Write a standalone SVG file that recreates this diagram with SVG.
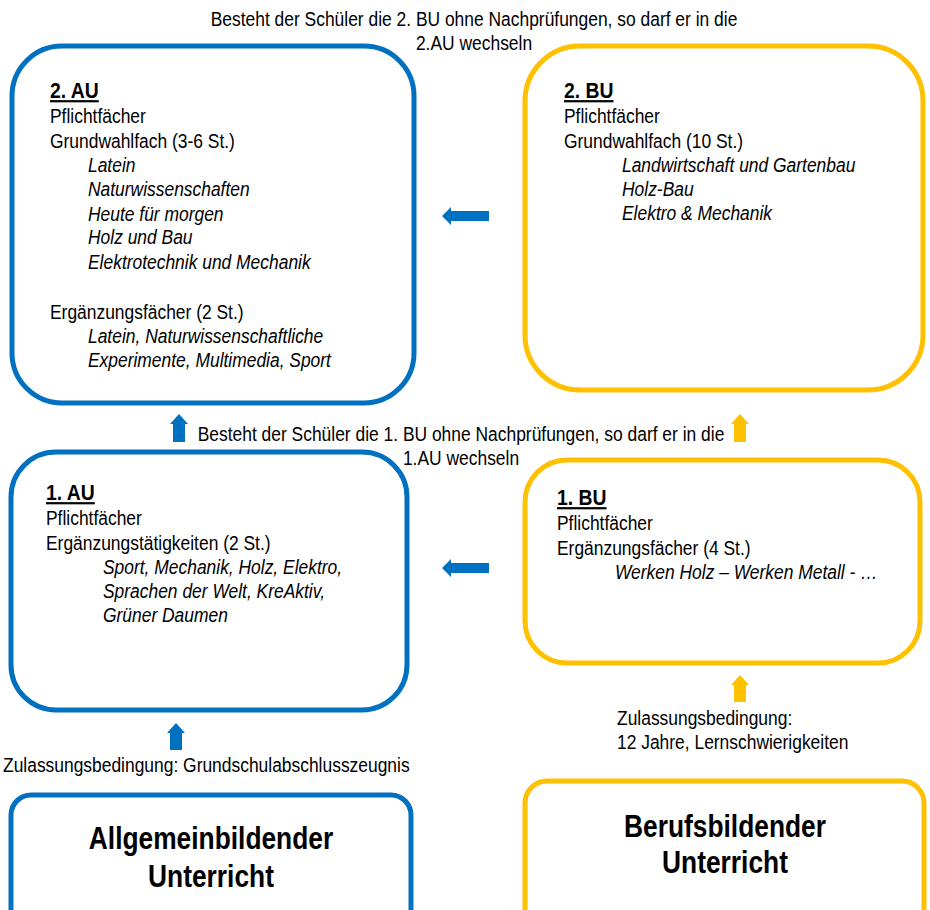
<svg xmlns="http://www.w3.org/2000/svg" width="930" height="910" viewBox="0 0 930 910">
<style>
text{font-family:"Liberation Sans",Arial,sans-serif;font-size:21px;fill:#000}
.u{font-weight:bold;font-size:22px;text-decoration:underline}
.i{font-style:italic}
.big{font-weight:bold;font-size:31px}
.blue{fill:none;stroke:#0070C0;stroke-width:5}
.yel{fill:none;stroke:#FFC000;stroke-width:5}
.ab{fill:#0070C0}
.ay{fill:#FFC000}
</style>
<rect width="930" height="910" fill="#fff"/>
<g id="au2">
<rect class="blue" x="12" y="46" width="402" height="357" rx="50"/>
<text class="u" transform="matrix(.88 0 0 1 50 98)">2. AU</text>
<text transform="matrix(.83 0 0 1 50 123)">Pflichtfächer</text>
<text transform="matrix(.83 0 0 1 50 148)">Grundwahlfach (3-6 St.)</text>
<text class="i" transform="matrix(.83 0 0 1 88 172)">Latein</text>
<text class="i" transform="matrix(.83 0 0 1 88 196)">Naturwissenschaften</text>
<text class="i" transform="matrix(.83 0 0 1 88 221)">Heute für morgen</text>
<text class="i" transform="matrix(.83 0 0 1 88 244)">Holz und Bau</text>
<text class="i" transform="matrix(.83 0 0 1 88 269)">Elektrotechnik und Mechanik</text>
<text transform="matrix(.83 0 0 1 50 319)">Ergänzungsfächer (2 St.)</text>
<text class="i" transform="matrix(.83 0 0 1 88 343)">Latein, Naturwissenschaftliche</text>
<text class="i" transform="matrix(.83 0 0 1 88 367)">Experimente, Multimedia, Sport</text>
</g>
<g id="bu2">
<rect class="yel" x="525" y="46" width="398" height="344" rx="55"/>
<text class="u" transform="matrix(.88 0 0 1 564 98)">2. BU</text>
<text transform="matrix(.83 0 0 1 564 123)">Pflichtfächer</text>
<text transform="matrix(.83 0 0 1 564 148)">Grundwahlfach (10 St.)</text>
<text class="i" transform="matrix(.83 0 0 1 622 172)">Landwirtschaft und Gartenbau</text>
<text class="i" transform="matrix(.83 0 0 1 622 196)">Holz-Bau</text>
<text class="i" transform="matrix(.83 0 0 1 622 220)">Elektro &amp; Mechanik</text>
</g>
<g id="au1">
<rect class="blue" x="11" y="452" width="396" height="258" rx="45"/>
<text class="u" transform="matrix(.88 0 0 1 46 500)">1. AU</text>
<text transform="matrix(.83 0 0 1 46 525)">Pflichtfächer</text>
<text transform="matrix(.83 0 0 1 46 550)">Ergänzungstätigkeiten (2 St.)</text>
<text class="i" transform="matrix(.83 0 0 1 103 574)">Sport, Mechanik, Holz, Elektro,</text>
<text class="i" transform="matrix(.83 0 0 1 103 598)">Sprachen der Welt, KreAktiv,</text>
<text class="i" transform="matrix(.83 0 0 1 103 622)">Grüner Daumen</text>
</g>
<g id="bu1">
<rect class="yel" x="525" y="460" width="395" height="203" rx="42"/>
<text class="u" transform="matrix(.88 0 0 1 557 505)">1. BU</text>
<text transform="matrix(.83 0 0 1 557 530)">Pflichtfächer</text>
<text transform="matrix(.83 0 0 1 557 555)">Ergänzungsfächer (4 St.)</text>
<text class="i" transform="matrix(.83 0 0 1 615 579)">Werken Holz – Werken Metall - …</text>
</g>
<g id="allg">
<rect class="blue" x="11" y="795" width="400" height="140" rx="20"/>
<text class="big" text-anchor="middle" transform="matrix(.85 0 0 1 211 849)">Allgemeinbildender</text>
<text class="big" text-anchor="middle" transform="matrix(.85 0 0 1 211 887)">Unterricht</text>
</g>
<g id="beruf">
<rect class="yel" x="525" y="781" width="399" height="150" rx="22"/>
<text class="big" text-anchor="middle" transform="matrix(.85 0 0 1 725 837)">Berufsbildender</text>
<text class="big" text-anchor="middle" transform="matrix(.85 0 0 1 725 873)">Unterricht</text>
</g>
<g id="labels">
<text text-anchor="middle" transform="matrix(.83 0 0 1 474 26)">Besteht der Schüler die 2. BU ohne Nachprüfungen, so darf er in die</text>
<text text-anchor="middle" transform="matrix(.83 0 0 1 474 50)">2.AU wechseln</text>
<text text-anchor="middle" transform="matrix(.83 0 0 1 461 441)">Besteht der Schüler die 1. BU ohne Nachprüfungen, so darf er in die</text>
<text text-anchor="middle" transform="matrix(.83 0 0 1 461 465)">1.AU wechseln</text>
<text transform="matrix(.83 0 0 1 3 772)">Zulassungsbedingung: Grundschulabschlusszeugnis</text>
<text transform="matrix(.83 0 0 1 617 725)">Zulassungsbedingung:</text>
<text transform="matrix(.83 0 0 1 617 749)">12 Jahre, Lernschwierigkeiten</text>
</g>
<g id="connectors">
<polygon class="ab" points="442,216 451,207 451,211 489,211 489,221 451,221 451,225"/>
<polygon class="ab" points="442,568 451,559 451,563 489,563 489,573 451,573 451,577"/>
<polygon class="ab" points="179,414 188,424 185,424 185,442 173,442 173,424 170,424"/>
<polygon class="ay" points="740,414 749,424 746,424 746,442 734,442 734,424 731,424"/>
<polygon class="ab" points="176,723 185,733 182,733 182,750 170,750 170,733 167,733"/>
<polygon class="ay" points="740,675 749,685 746,685 746,702 734,702 734,685 731,685"/>
</g>
</svg>
